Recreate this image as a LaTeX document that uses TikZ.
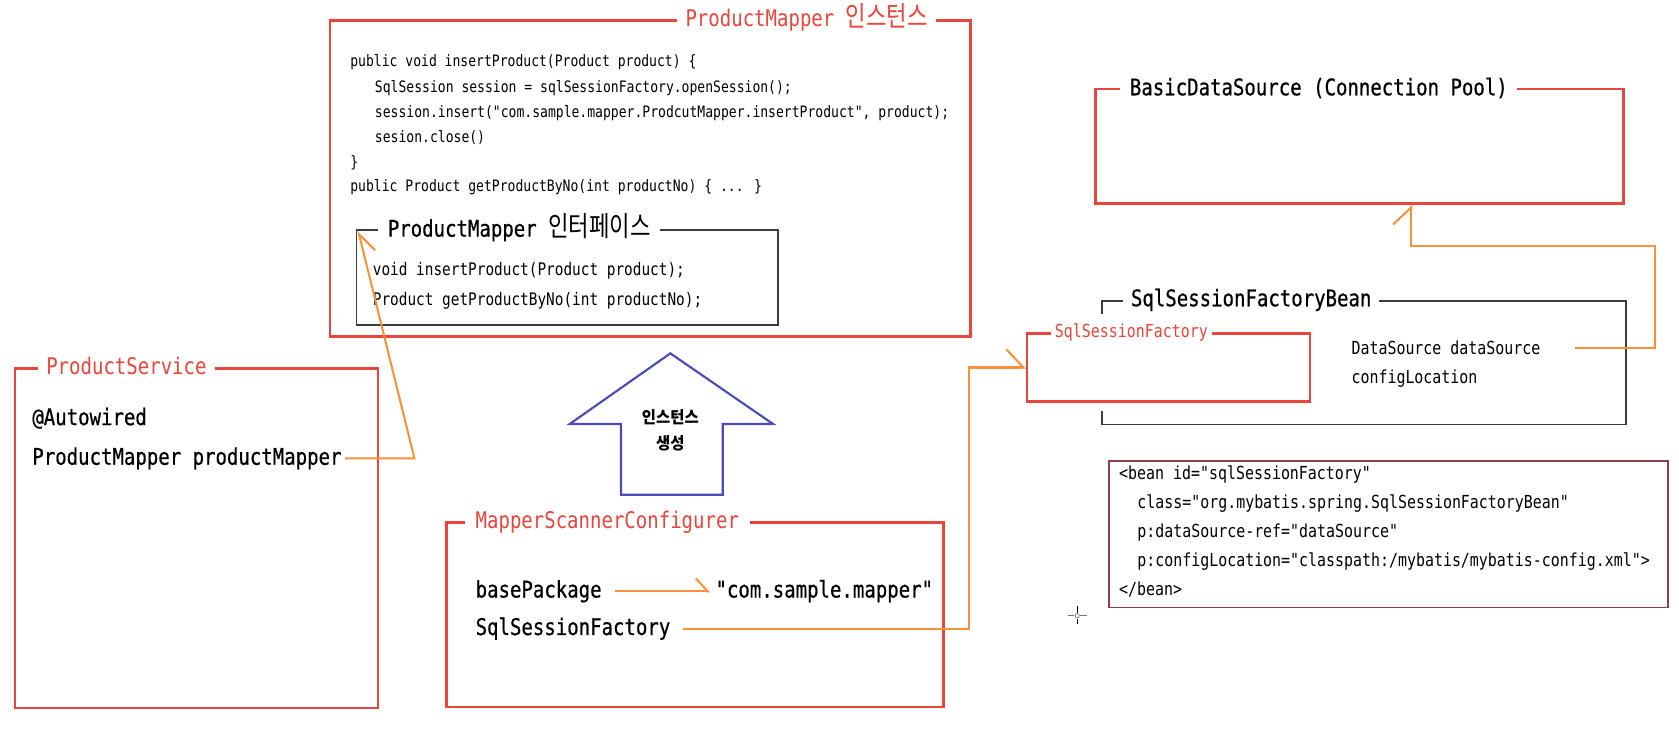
\documentclass[tikz,border=0pt]{standalone}
\usepackage{fontspec}
\usetikzlibrary{arrows.meta,calc}
\newfontfamily\monof[FakeStretch=0.83]{DejaVu Sans Mono}
\newfontfamily\monobf[FakeStretch=0.83,FakeBold=0.6]{DejaVu Sans Mono}
\newfontfamily\krf[FakeStretch=0.8]{Noto Sans CJK KR}
\newfontfamily\krbf[FakeStretch=0.93]{Noto Sans CJK KR}
\definecolor{boxred}{HTML}{E8453C}
\definecolor{conor}{HTML}{F7923A}
\definecolor{arrblue}{HTML}{4B4BB8}
\definecolor{gframe}{HTML}{3C3C3C}
\definecolor{beanfr}{HTML}{8C3F4F}
\newcommand\ttlfont{\monof\fontsize{21.4}{24}\selectfont}
\newcommand\ttlbfont{\monobf\fontsize{21.4}{24}\selectfont}
\newcommand\kt[1]{{\krf\fontsize{26}{28}\selectfont #1}}
\begin{document}
\begin{tikzpicture}[x=1pt,y=-1pt,
  redbox/.style={draw=boxred,line width=2.4pt,anchor=north west,inner sep=0pt},
  ttl/.style={anchor=base west,fill=white,inner xsep=8pt,inner ysep=2pt,font=\ttlbfont,text=black},
  rttl/.style={ttl,font=\ttlfont,text=boxred},
  mtxt/.style={anchor=base west,inner sep=0pt,font=\ttlbfont,text=black},
  smtxt/.style={anchor=base west,inner sep=0pt,font=\monof\fontsize{16.8}{19}\selectfont,text=black},
  codetxt/.style={anchor=base west,inner sep=0pt,font=\monof\fontsize{14.7}{17}\selectfont,text=black},
  con/.style={draw=conor,line width=1.9pt},
  tipl/.style={-{Straight Barb[left,length=16pt,width=34pt]}},
  tipr/.style={-{Straight Barb[right,length=18pt,width=22pt]}},
]
\useasboundingbox (0,0) rectangle (1568,697);

% ProductMapper instance box
\node[redbox,minimum width=598pt,minimum height=295pt] (pmi) at (307,18) {};
\node[rttl] (pmit) at (632,25) {ProductMapper \kt{인스턴스}};
\node[codetxt] (c1) at (327,62) {public void insertProduct(Product product) \{};
\node[codetxt] (c2) at (350,86) {SqlSession session = sqlSessionFactory.openSession();};
\node[codetxt] (c3) at (350,110) {session.insert("com.sample.mapper.ProdcutMapper.insertProduct", product);};
\node[codetxt] (c4) at (350,133) {sesion.close()};
\node[codetxt] (c5) at (327,156) {\}};
\node[codetxt] (c6) at (327,179) {public Product getProductByNo(int productNo) \{ ... \}};

% interface box
\node[draw=gframe,line width=1.3pt,anchor=north west,minimum width=394pt,minimum height=89pt,inner sep=0pt] (ifc) at (332,214) {};
\node[ttl,inner xsep=9pt] (ifct) at (353,221) {ProductMapper \kt{인터페이스}};
\node[smtxt,font=\monof\fontsize{16.2}{18}\selectfont] (i1) at (348,257) {void insertProduct(Product product);};
\node[smtxt,font=\monof\fontsize{16.2}{18}\selectfont] (i2) at (348,285) {Product getProductByNo(int productNo);};

% ProductService
\node[redbox,minimum width=339pt,minimum height=317pt] (ps) at (13,343) {};
\node[rttl] (pst) at (35,350) {ProductService};
\node[mtxt] (aw) at (30,397) {@Autowired};
\node[mtxt] (pm) at (30,434) {ProductMapper productMapper};
\coordinate (pmk) at (387,0);
\draw[con,tipr,shorten <=3pt] (pm.east) -- (pm.east -| pmk) -- ($(ifc.north west)+(2.5,1.5)$);

% blue arrow
\draw[arrblue,line width=2pt,line join=miter] (626,330) -- (532,396) -- (580,396) -- (580,462) -- (675,462) -- (675,396) -- (722,396) -- cycle;
\node[font=\krbf\bfseries\fontsize{15.5}{17}\selectfont] (ins1) at (626,390) {인스턴스};
\node[font=\krbf\bfseries\fontsize{15.5}{17}\selectfont] (ins2) at (626,414) {생성};

% MapperScannerConfigurer
\node[redbox,minimum width=464pt,minimum height=172pt] (msc) at (416,487) {};
\node[rttl,inner xsep=10pt] (msct) at (434,494) {MapperScannerConfigurer};
\node[mtxt] (bp) at (444,558) {basePackage};
\node[mtxt] (csm) at (668,558) {"com.sample.mapper"};
\node[mtxt] (msf) at (444,593) {SqlSessionFactory};
\draw[con,-{Straight Barb[left,length=11pt,width=24pt]},shorten <=12pt] (bp.east) -- ($(bp.east -| csm.west)+(-5,0)$);

% BasicDataSource
\node[redbox,minimum width=493pt,minimum height=107pt] (bds) at (1022,82) {};
\node[ttl,inner xsep=9pt] (bdst) at (1046,89) {BasicDataSource (Connection Pool)};

% SqlSessionFactoryBean
\node[anchor=north west,minimum width=489pt,minimum height=115pt,inner sep=0pt] (sfb) at (1029,281) {};
\draw[gframe,line width=1.3pt] ($(sfb.north west)+(0,12)$) -- (sfb.north west) -- (sfb.north east) -- (sfb.south east) -- (sfb.south west) -- ++(0,-13);
\node[ttl,inner xsep=7pt] (sfbt) at (1049,286) {SqlSessionFactoryBean};

\node[redbox,minimum width=264pt,minimum height=64pt] (sqf) at (958,310) {};
\node[rttl,inner xsep=4pt,font=\monof\fontsize{16.8}{19}\selectfont] (sqft) at (981,315) {SqlSessionFactory};
\node[smtxt] (ds) at (1262,331) {DataSource dataSource};
\node[smtxt] (cl) at (1262,358) {configLocation};

\coordinate (kx) at (905,0);
\draw[con,tipl,shorten <=12pt] (msf.east) -- (msf.east -| kx) -- (kx |- sqf.west) -- (sqf.west);

\coordinate (dsp) at ($(ds.east)+(32,0)$);
\coordinate (rk) at (1546,230);
\coordinate (bdsin) at ($(bds.south west)+(296,0)$);
\draw[con,tipl] (dsp) -| (rk) -- (rk -| bdsin) -- (bdsin);

% bean xml
\node[draw=beanfr,line width=1.2pt,anchor=north west,minimum width=522pt,minimum height=137pt,inner sep=0pt] (bean) at (1035,430) {};
\node[smtxt] (b1) at (1045,448) {<bean id="sqlSessionFactory"};
\node[smtxt] (b2) at (1062,475) {class="org.mybatis.spring.SqlSessionFactoryBean"};
\node[smtxt] (b3) at (1062,502) {p:dataSource-ref="dataSource"};
\node[smtxt] (b4) at (1062,529) {p:configLocation="classpath:/mybatis/mybatis-config.xml">};
\node[smtxt] (b5) at (1045,556) {</bean>};

% cursor
\draw[black!55,line width=1pt] (997,575) -- (1003,575) (1009,575) -- (1015,575);
\draw[black,line width=1pt] (1006,566) -- (1006,572) (1006,578) -- (1006,583);
\draw[black!60,line width=0.6pt] (1006,575) circle (2);
\end{tikzpicture}
\end{document}
